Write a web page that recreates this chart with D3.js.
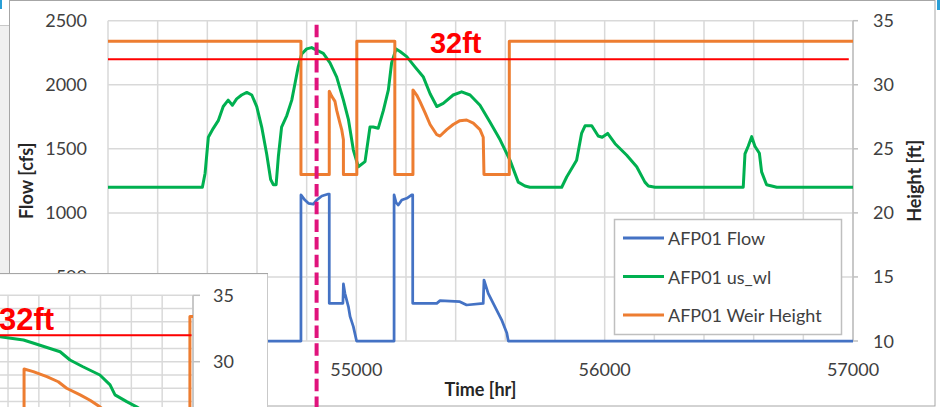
<!DOCTYPE html>
<html>
<head>
  <meta charset="utf-8">
  <title>AFP01 weir</title>
  <script src="https://d3js.org/d3.v7.min.js"></script>
  <style>
  body { margin: 0; background: #fff; }
  text { font-family: Lato, 'Open Sans', sans-serif; fill: #404040; }
  .tick-label { font-size: 18px; }
  .axis-title { font-size: 18px; font-weight: bold; fill: #262626; }
  .limit-label { font-family: 'Liberation Sans', Arial, sans-serif; font-weight: bold; font-size: 29px; fill: #ff0000; }
  </style>
</head>
<body>
<div id='container'></div>
<script>

// main chart ticks
var timeTicks = [54000, 55000, 56000, 57000]
var timeGrid = d3.range(54000, 57001, 200)
var flowTicks = [0, 500, 1000, 1500, 2000, 2500]
var heightTicks = [10, 15, 20, 25, 30, 35]
var limitHeight = 32
var markerTime = 54840

// AFP01 Flow [cfs] (left axis)
var flowSeries = [
  [54000, 0], [54777, 0], [54777, 1140], [54793, 1100], [54807, 1075], [54827, 1069],
  [54840, 1100], [54861, 1132], [54887, 1147], [54891, 1147], [54891, 294], [54946, 294],
  [54948, 445], [54954, 372], [54968, 269], [54975, 190], [54988, 112], [55001, 0],
  [55152, 0], [55152, 1140], [55160, 1080], [55169, 1062], [55183, 1101], [55203, 1114],
  [55223, 1140], [55227, 1140], [55227, 294], [55324, 294], [55337, 315], [55417, 307],
  [55444, 281], [55511, 294], [55514, 476], [55531, 372], [55558, 269], [55585, 165],
  [55606, 63], [55612, 0], [57000, 0]
]

// AFP01 us_wl [ft] (right axis)
var usWlSeries = [
  [54000, 22.0], [54380, 22.0], [54391, 23.1], [54404, 25.9], [54424, 26.6], [54444, 27.2],
  [54464, 28.3], [54484, 28.8], [54501, 28.4], [54518, 28.9], [54538, 29.2], [54559, 29.4],
  [54579, 29.2], [54599, 28.3], [54619, 26.7], [54639, 24.6], [54655, 22.6], [54666, 22.2],
  [54677, 22.2], [54686, 24.4], [54699, 26.7], [54720, 27.6], [54740, 28.8], [54753, 30.1],
  [54766, 31.4], [54780, 32.4], [54800, 32.8], [54820, 32.9], [54840, 32.7], [54867, 32.45],
  [54894, 31.7], [54921, 30.6], [54948, 28.8], [54968, 27.3], [54988, 24.9], [55008, 23.6],
  [55035, 24.0], [55055, 26.7], [55068, 26.7], [55088, 26.6], [55109, 28.0], [55129, 29.6],
  [55142, 31.7], [55160, 32.8], [55176, 32.6], [55203, 32.2], [55236, 31.4], [55270, 30.6],
  [55297, 29.3], [55324, 28.3], [55350, 28.55], [55390, 29.2], [55424, 29.45], [55458, 29.2],
  [55498, 28.4], [55538, 27.1], [55579, 25.7], [55619, 24.1], [55652, 22.4], [55679, 22.1],
  [55699, 22.0], [55827, 22.0], [55847, 22.8], [55887, 24.1], [55907, 26.2], [55921, 26.8],
  [55948, 26.8], [55974, 26.0], [55990, 25.9], [56012, 26.2], [56042, 25.4], [56089, 24.5],
  [56129, 23.6], [56162, 22.4], [56176, 22.1], [56203, 22.0], [56558, 22.0], [56565, 24.6],
  [56578, 25.2], [56592, 25.95], [56605, 25.2], [56623, 24.65], [56632, 23.2], [56652, 22.2],
  [56693, 22.0], [57000, 22.0]
]

// AFP01 Weir Height [ft] (right axis)
var weirSeries = [
  [54000, 33.4], [54777, 33.4], [54777, 23], [54891, 23], [54891, 29.5], [54901, 29.1],
  [54914, 28.7], [54921, 28.0], [54934, 27.0], [54941, 26.5], [54948, 25.7], [54948, 23],
  [55002, 23], [55002, 33.4], [55155, 33.4], [55155, 23], [55228, 23], [55228, 29.6],
  [55243, 29.2], [55256, 28.7], [55277, 27.8], [55297, 26.9], [55324, 26.1], [55337, 26.0],
  [55364, 26.5], [55390, 26.9], [55417, 27.2], [55444, 27.25], [55471, 27.0], [55498, 26.5],
  [55511, 25.9], [55514, 23], [55616, 23], [55616, 33.4], [57000, 33.4]
]

var legendNames = ['AFP01 Flow', 'AFP01 us_wl', 'AFP01 Weir Height']
var seriesColors = ['#4472c4', '#00b050', '#ed7d31']

// inset (zoomed view), x in hours
var insetTimeGrid = [-1, 0, 1, 2, 3, 4, 5, 6]
var insetHeightGrid = d3.range(20, 36, 1)
var insetHeightTicks = [30, 35]
var insetUsWl = [
  [-1, 32.2], [-0.26, 31.88], [0.5, 31.63], [0.81, 31.41], [1.69, 30.75], [2.01, 30.13],
  [2.43, 29.62], [2.98, 29.0], [3.31, 28.25], [3.47, 27.5], [3.85, 26.99], [4.17, 26.6],
  [4.6, 26.0], [5.0, 25.0]
]
var insetWeir = [
  [0.52, 20], [0.52, 29.45], [0.82, 29.25], [1.26, 28.87], [1.63, 28.49], [1.9, 28.0],
  [2.34, 27.5], [2.66, 27.1], [2.98, 26.6], [3.3, 26.0], [3.4, 25.6], [3.45, 20],
  [5.9, 20], [5.9, 33.4], [6, 33.4]
]

const width = 940
const height = 407

var svg = d3.select('#container')
  .append('svg')
  .attr('width', width)
  .attr('height', height)

// window chrome round the chart
svg.append('rect').attr('x', 0).attr('y', 25).attr('width', 9).attr('height', height - 25).style('fill', '#f0f0f0')
svg.append('line').attr('x1', 0).attr('x2', 9).attr('y1', 25.5).attr('y2', 25.5).style('stroke', '#c8c8c8')
svg.append('rect').attr('x', 0).attr('y', 0).attr('width', 2).attr('height', 9).style('fill', '#2a9fd6')
svg.append('rect').attr('x', 937).attr('y', 0).attr('width', 3).attr('height', 10).style('fill', '#2a9fd6')
svg.append('rect')
  .attr('x', 9.5).attr('y', 0.5).attr('width', 925.5).attr('height', 405.5)
  .style('fill', '#fff').style('stroke', '#a6a6a6')

var plot = {left: 108, right: 853, top: 20.7, bottom: 341}

var xScale = d3.scaleLinear().domain([54000, 57000]).range([plot.left, plot.right])
var yFlow = d3.scaleLinear().domain([0, 2500]).range([plot.bottom, plot.top])
var yHeight = d3.scaleLinear().domain([10, 35]).range([plot.bottom, plot.top])

// gridlines
svg.append('g')
  .selectAll('line')
  .data(timeGrid)
  .enter().append('line')
  .attr('x1', d => xScale(d)).attr('x2', d => xScale(d))
  .attr('y1', plot.top).attr('y2', plot.bottom)
  .style('stroke', '#d9d9d9').style('stroke-width', 1.5)

svg.append('g')
  .selectAll('line')
  .data(flowTicks)
  .enter().append('line')
  .attr('x1', plot.left).attr('x2', plot.right)
  .attr('y1', d => yFlow(d)).attr('y2', d => yFlow(d))
  .style('stroke', '#d9d9d9').style('stroke-width', 1.5)

// right axis line + ticks
svg.append('line')
  .attr('x1', plot.right).attr('x2', plot.right)
  .attr('y1', plot.top).attr('y2', plot.bottom)
  .style('stroke', '#bfbfbf').style('stroke-width', 1.5)
svg.append('g')
  .selectAll('line')
  .data(heightTicks)
  .enter().append('line')
  .attr('x1', plot.right).attr('x2', plot.right + 5)
  .attr('y1', d => yHeight(d)).attr('y2', d => yHeight(d))
  .style('stroke', '#bfbfbf').style('stroke-width', 1.5)

// tick labels
svg.append('g')
  .selectAll('text')
  .data(flowTicks)
  .enter().append('text')
  .classed('tick-label', true)
  .attr('x', plot.left - 21)
  .attr('y', d => yFlow(d) + 6.5)
  .attr('text-anchor', 'end')
  .text(d => d)

svg.append('g')
  .selectAll('text')
  .data(heightTicks)
  .enter().append('text')
  .classed('tick-label', true)
  .attr('x', plot.right + 20)
  .attr('y', d => yHeight(d) + 6.5)
  .text(d => d)

svg.append('g')
  .selectAll('text')
  .data(timeTicks)
  .enter().append('text')
  .classed('tick-label', true)
  .attr('x', d => xScale(d))
  .attr('y', plot.bottom + 34.5)
  .attr('text-anchor', 'middle')
  .text(d => d)

// axis titles
svg.append('text').classed('axis-title', true)
  .attr('x', (plot.left + plot.right) / 2 + 0).attr('y', 396)
  .attr('text-anchor', 'middle').text('Time [hr]')
svg.append('text').classed('axis-title', true)
  .attr('transform', 'translate(33,' + ((plot.top + plot.bottom) / 2) + ') rotate(-90)')
  .attr('text-anchor', 'middle').text('Flow [cfs]')
svg.append('text').classed('axis-title', true)
  .attr('transform', 'translate(921,' + ((plot.top + plot.bottom) / 2) + ') rotate(-90)')
  .attr('text-anchor', 'middle').text('Height [ft]')

// series
var flowLine = d3.line().x(d => xScale(d[0])).y(d => yFlow(d[1]))
var heightLine = d3.line().x(d => xScale(d[0])).y(d => yHeight(d[1]))

svg.append('path').datum(flowSeries).attr('d', flowLine)
  .style('fill', 'none').style('stroke', seriesColors[0]).style('stroke-width', 2.75).style('stroke-linejoin', 'round')
svg.append('path').datum(usWlSeries).attr('d', heightLine)
  .style('fill', 'none').style('stroke', seriesColors[1]).style('stroke-width', 3).style('stroke-linejoin', 'round')
svg.append('path').datum(weirSeries).attr('d', heightLine)
  .style('fill', 'none').style('stroke', seriesColors[2]).style('stroke-width', 3).style('stroke-linejoin', 'round')

// 32 ft limit
svg.append('line')
  .attr('x1', xScale(54000)).attr('x2', xScale(56983))
  .attr('y1', yHeight(limitHeight)).attr('y2', yHeight(limitHeight))
  .style('stroke', '#ff0000').style('stroke-width', 2)
svg.append('text').classed('limit-label', true)
  .attr('x', xScale(55400)).attr('y', yHeight(limitHeight) - 6)
  .attr('text-anchor', 'middle')
  .text(limitHeight + 'ft')

// marker
svg.append('line')
  .attr('x1', xScale(markerTime)).attr('x2', xScale(markerTime))
  .attr('y1', plot.top + 4).attr('y2', height)
  .style('stroke', '#e0137c').style('stroke-width', 4)
  .style('stroke-dasharray', '12.5,5.2')

// legend
var legend = svg.append('g').attr('transform', 'translate(614,219)')
legend.append('rect')
  .attr('x', 0.5).attr('y', 0.5).attr('width', 227).attr('height', 115)
  .style('fill', '#fff').style('stroke', '#bfbfbf').style('stroke-width', 1.5)
var items = legend.selectAll('.item')
  .data(legendNames)
  .enter().append('g')
  .classed('item', true)
  .attr('transform', (d, i) => 'translate(0,' + (19 + i * 38.5) + ')')
items.append('line')
  .attr('x1', 9).attr('x2', 50)
  .style('stroke', (d, i) => seriesColors[i]).style('stroke-width', 3)
items.append('text')
  .classed('tick-label', true)
  .attr('x', 54).attr('y', 7)
  .text(d => d)

// inset chart on top, lower left
var inset = svg.append('g')
svg.append('defs').append('clipPath').attr('id', 'insetClip')
  .append('rect').attr('x', 0).attr('y', 273).attr('width', 268).attr('height', 134)
inset.attr('clip-path', 'url(#insetClip)')
inset.append('rect')
  .attr('x', -2).attr('y', 273.5).attr('width', 270).attr('height', 140)
  .style('fill', '#fff').style('stroke', '#a6a6a6').style('stroke-width', 1.2)

var ix = d3.scaleLinear().domain([-1, 6]).range([-22.8, 193])
var iy = d3.scaleLinear().domain([20, 35]).range([494.5, 295.3])

inset.append('g')
  .selectAll('line')
  .data(insetTimeGrid)
  .enter().append('line')
  .attr('x1', d => ix(d)).attr('x2', d => ix(d))
  .attr('y1', iy(35)).attr('y2', iy(20))
  .style('stroke', '#d9d9d9').style('stroke-width', 1.5)
inset.append('g')
  .selectAll('line')
  .data(insetHeightGrid)
  .enter().append('line')
  .attr('x1', ix(-1)).attr('x2', ix(6))
  .attr('y1', d => iy(d)).attr('y2', d => iy(d))
  .style('stroke', '#d9d9d9').style('stroke-width', 1.5)

inset.append('line')
  .attr('x1', ix(6)).attr('x2', ix(6))
  .attr('y1', iy(35)).attr('y2', iy(20))
  .style('stroke', '#bfbfbf').style('stroke-width', 1.5)
inset.append('g')
  .selectAll('line')
  .data(insetHeightTicks)
  .enter().append('line')
  .attr('x1', ix(6)).attr('x2', ix(6) + 7)
  .attr('y1', d => iy(d)).attr('y2', d => iy(d))
  .style('stroke', '#bfbfbf').style('stroke-width', 1.5)
inset.append('g')
  .selectAll('text')
  .data(insetHeightTicks)
  .enter().append('text')
  .classed('tick-label', true)
  .attr('x', ix(6) + 20)
  .attr('y', d => iy(d) + 6.5)
  .text(d => d)

var insetLine = d3.line().x(d => ix(d[0])).y(d => iy(d[1]))
var insetPlot = inset.append('g')
insetPlot.append('path').datum(insetUsWl).attr('d', insetLine)
  .style('fill', 'none').style('stroke', seriesColors[1]).style('stroke-width', 3).style('stroke-linejoin', 'round')
insetPlot.append('path').datum(insetWeir).attr('d', insetLine)
  .style('fill', 'none').style('stroke', seriesColors[2]).style('stroke-width', 3).style('stroke-linejoin', 'round')
insetPlot.append('line')
  .attr('x1', ix(-1)).attr('x2', ix(5.95))
  .attr('y1', iy(limitHeight)).attr('y2', iy(limitHeight))
  .style('stroke', '#ff0000').style('stroke-width', 2)
inset.append('text').classed('limit-label', true)
  .attr('x', -1).attr('y', iy(limitHeight) - 5)
  .style('font-size', '31px')
  .text(limitHeight + 'ft')

</script>
</body>
</html>
